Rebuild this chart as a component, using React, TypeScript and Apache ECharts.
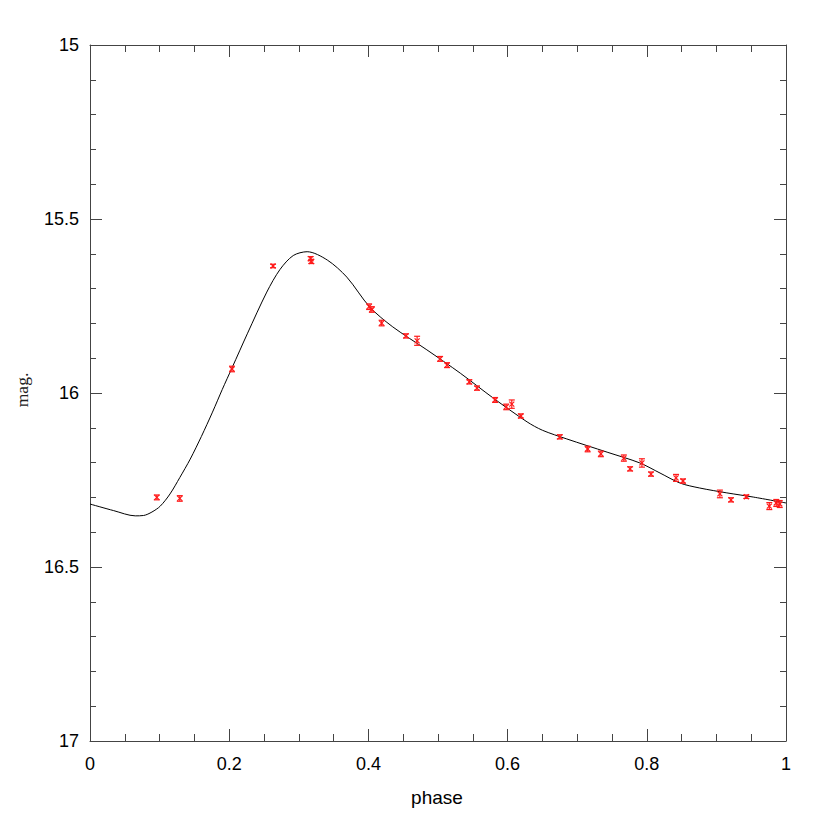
import React, { useEffect, useRef } from "react";
import * as echarts from "echarts";

// observed data points: phase, magnitude, error
const obsPhase = [0.096, 0.129, 0.204, 0.263, 0.317, 0.318, 0.401, 0.405, 0.419, 0.454, 0.470, 0.503, 0.513, 0.545, 0.556, 0.582, 0.598, 0.606, 0.619, 0.675, 0.715, 0.734, 0.767, 0.776, 0.793, 0.806, 0.842, 0.852, 0.905, 0.921, 0.943, 0.976, 0.986, 0.991];
const obsMag = [16.300, 16.303, 15.931, 15.635, 15.614, 15.622, 15.752, 15.760, 15.799, 15.836, 15.850, 15.902, 15.920, 15.968, 15.986, 16.020, 16.040, 16.032, 16.066, 16.126, 16.161, 16.175, 16.187, 16.218, 16.201, 16.233, 16.244, 16.253, 16.290, 16.307, 16.298, 16.325, 16.316, 16.319];
const obsErr = [0.007, 0.008, 0.008, 0.005, 0.006, 0.006, 0.008, 0.008, 0.008, 0.006, 0.013, 0.007, 0.007, 0.006, 0.006, 0.007, 0.008, 0.012, 0.006, 0.006, 0.008, 0.008, 0.009, 0.006, 0.012, 0.006, 0.010, 0.006, 0.011, 0.006, 0.005, 0.010, 0.010, 0.010];

// model light curve
const curvePhase = [0, 0.034, 0.065, 0.077, 0.089, 0.101, 0.115, 0.129, 0.144, 0.16, 0.176, 0.19, 0.204, 0.226, 0.254, 0.273, 0.292, 0.312, 0.341, 0.369, 0.402, 0.435, 0.484, 0.532, 0.579, 0.628, 0.65, 0.685, 0.743, 0.790, 0.819, 0.848, 0.876, 0.915, 0.953, 1.0];
const curveMag = [16.319, 16.338, 16.353, 16.352, 16.342, 16.325, 16.29, 16.243, 16.19, 16.125, 16.055, 15.99, 15.928, 15.83, 15.71, 15.645, 15.605, 15.594, 15.618, 15.667, 15.753, 15.810, 15.876, 15.943, 16.014, 16.083, 16.107, 16.132, 16.170, 16.201, 16.230, 16.259, 16.273, 16.287, 16.299, 16.316];

const xTitle = "phase";
const yTitle = "mag.";

export default function App() {
  const ref = useRef<HTMLDivElement>(null);
  useEffect(() => {
    if (!ref.current) return;
    const chart = echarts.init(ref.current, null, { renderer: "svg" });
    const axisLine = { show: true, onZero: false, lineStyle: { color: "#444", width: 1 } };
    const labelFont = { fontFamily: "Liberation Sans, Arial, sans-serif", fontSize: 18, color: "#000" };
    const xCommon = {
      type: "value" as const, min: 0, max: 1, interval: 0.2,
      axisLine,
      splitLine: { show: false },
      axisTick: { show: true, inside: true, length: 12, lineStyle: { color: "#444" } },
      minorTick: { show: true, splitNumber: 4, length: 7, lineStyle: { color: "#444" } },
    };
    const yCommon = {
      type: "value" as const, min: 15, max: 17, interval: 0.5, inverse: true,
      axisLine,
      splitLine: { show: false },
      axisTick: { show: true, inside: true, length: 12, lineStyle: { color: "#444" } },
      minorTick: { show: true, splitNumber: 5, length: 6, lineStyle: { color: "#444" } },
    };
    const points = obsPhase.map((p, i) => [p, obsMag[i], obsErr[i]]);
    const curve = curvePhase.map((p, i) => [p, curveMag[i]]);
    chart.setOption({
      animation: false,
      backgroundColor: "#fff",
      grid: { left: 90, right: 44, top: 45, bottom: 89 },
      xAxis: [
        { ...xCommon, position: "bottom", axisLabel: { ...labelFont, margin: 14, formatter: (v: number) => String(v) } },
        { ...xCommon, position: "top", axisLabel: { show: false } },
      ],
      yAxis: [
        { ...yCommon, position: "left", axisLabel: { ...labelFont, margin: 11, formatter: (v: number) => String(v) } },
        { ...yCommon, position: "right", axisLabel: { show: false } },
      ],
      graphic: [
        {
          type: "text", x: 437, y: 797,
          style: { text: xTitle, fontFamily: "Liberation Sans, Arial, sans-serif", fontSize: 19, fill: "#000", textAlign: "center", textVerticalAlign: "middle" },
        },
        {
          type: "text", x: 22, y: 390, rotation: Math.PI / 2,
          style: { text: yTitle, fontFamily: "Liberation Serif, serif", fontSize: 17.5, fill: "#222", textAlign: "center", textVerticalAlign: "middle" },
        },
      ],
      series: [
        {
          type: "line", data: curve, smooth: 0.3, showSymbol: false, symbol: "none",
          lineStyle: { color: "#000", width: 1 }, xAxisIndex: 0, yAxisIndex: 0, z: 2,
        },
        {
          type: "custom", data: points, xAxisIndex: 0, yAxisIndex: 0, z: 3,
          renderItem: (params: any, api: any) => {
            const x = api.value(0), y = api.value(1), e = api.value(2);
            const p = api.coord([x, y]);
            const lo = api.coord([x, y - e]);
            const hi = api.coord([x, y + e]);
            const st = { stroke: "#ff1a1a", lineWidth: 1.2 };
            const c = 3, s = 2.5;
            return {
              type: "group",
              children: [
                { type: "line", shape: { x1: p[0], y1: lo[1], x2: p[0], y2: hi[1] }, style: st },
                { type: "line", shape: { x1: p[0] - c, y1: lo[1], x2: p[0] + c, y2: lo[1] }, style: st },
                { type: "line", shape: { x1: p[0] - c, y1: hi[1], x2: p[0] + c, y2: hi[1] }, style: st },
                { type: "line", shape: { x1: p[0] - s, y1: p[1] - s, x2: p[0] + s, y2: p[1] + s }, style: st },
                { type: "line", shape: { x1: p[0] - s, y1: p[1] + s, x2: p[0] + s, y2: p[1] - s }, style: st },
              ],
            };
          },
        },
      ],
    });
    return () => chart.dispose();
  }, []);
  return <div ref={ref} style={{ position: "fixed", left: 0, top: 0, width: 830, height: 830 }} />;
}
